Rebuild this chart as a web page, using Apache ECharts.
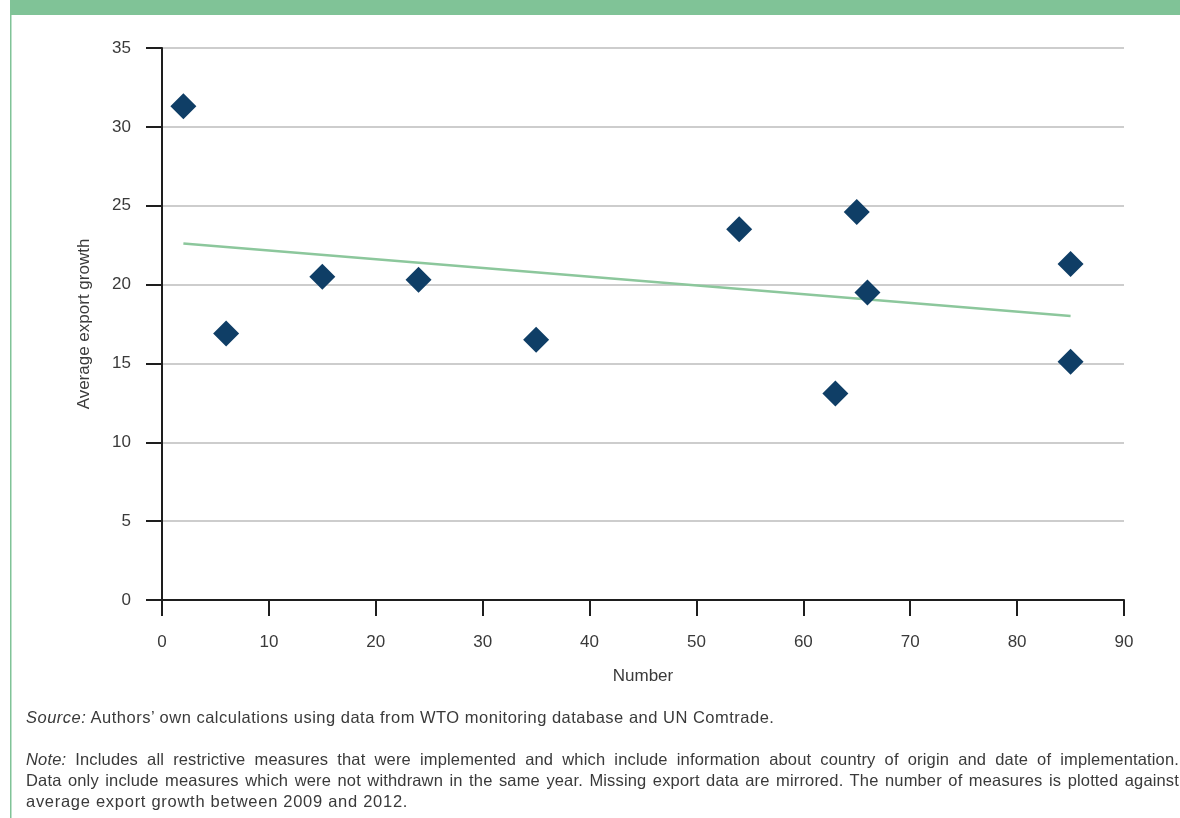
<!DOCTYPE html>
<html>
<head>
<meta charset="utf-8">
<script src="https://cdn.jsdelivr.net/npm/echarts@6/dist/echarts.min.js"></script>
<style>
  html, body { margin: 0; padding: 0; background: #fff; }
  #wrap { position: relative; width: 1180px; height: 818px; overflow: hidden; }
  #chart { position: absolute; left: 0; top: 0; width: 1180px; height: 818px; }
  .cap { position: absolute; left: 26px; width: 1153px; font-family: "Liberation Sans", Arial, sans-serif;
         font-size: 16.5px; letter-spacing: 0.5px; color: #3a3a3a; line-height: 21px; white-space: nowrap; }
  .just { text-align: justify; text-align-last: justify; white-space: normal; letter-spacing: 0.15px; }
</style>
</head>
<body>
<div id="wrap">
  <div id="chart"></div>
  <div class="cap" style="top:707px;"><i>Source:</i> Authors’ own calculations using data from WTO monitoring database and UN Comtrade.</div>
  <div class="cap just" style="top:749px;"><i>Note:</i> Includes all restrictive measures that were implemented and which include information about country of origin and date of implementation.</div>
  <div class="cap just" style="top:770px;">Data only include measures which were not withdrawn in the same year. Missing export data are mirrored. The number of measures is plotted against</div>
  <div class="cap" style="top:791px; letter-spacing: 0.72px;">average export growth between 2009 and 2012.</div>
</div>
<script>
// Data
const measuresNumber = [2, 6, 15, 24, 35, 54, 63, 65, 66, 85, 85];
const exportGrowth   = [31.3, 16.9, 20.5, 20.3, 16.5, 23.5, 13.1, 24.6, 19.5, 21.3, 15.1];
const trendX = [2, 85];
const trendY = [22.6, 18.0];
const xAxisName = 'Number';
const yAxisName = 'Average export growth';

const scatterData = measuresNumber.map((x, i) => [x, exportGrowth[i]]);
const trendData = trendX.map((x, i) => [x, trendY[i]]);

const font = '"Liberation Sans", Arial, sans-serif';
const txt = '#3a3a3a';
const axisCol = '#1e1e1e';

const chart = echarts.init(document.getElementById('chart'), null, { renderer: 'canvas' });
chart.setOption({
  animation: false,
  backgroundColor: '#ffffff',
  graphic: [
    { type: 'rect', left: 10, top: 0, shape: { width: 1170, height: 15 }, style: { fill: '#80c397' }, z: 10 },
    { type: 'rect', left: 10, top: 0, shape: { width: 1.5, height: 818 }, style: { fill: '#80c397' }, z: 10 }
  ],
  grid: { left: 162, right: 56, top: 48, bottom: 218, containLabel: false },
  xAxis: {
    type: 'value', min: 0, max: 90, interval: 10,
    name: xAxisName, nameLocation: 'middle', nameGap: 68,
    nameTextStyle: { fontFamily: font, fontSize: 17, color: txt },
    axisLine: { show: true, onZero: false, lineStyle: { color: axisCol, width: 2 } },
    axisTick: { show: true, inside: false, length: 16, lineStyle: { color: axisCol, width: 2 } },
    axisLabel: { margin: 34, fontFamily: font, fontSize: 17, color: txt },
    splitLine: { show: false }
  },
  yAxis: {
    type: 'value', min: 0, max: 35, interval: 5,
    name: yAxisName, nameLocation: 'middle', nameGap: 69, nameRotate: 90,
    nameTextStyle: { fontFamily: font, fontSize: 17, color: txt },
    axisLine: { show: true, lineStyle: { color: axisCol, width: 2 } },
    axisTick: { show: true, inside: false, length: 16, lineStyle: { color: axisCol, width: 2 } },
    axisLabel: { margin: 31, fontFamily: font, fontSize: 17, color: txt },
    splitLine: { show: true, lineStyle: { color: '#bdbdbd', width: 1.5 } }
  },
  series: [
    {
      type: 'line', data: trendData, symbol: 'none', silent: true, z: 2,
      lineStyle: { color: '#8cc79c', width: 2.5 }
    },
    {
      type: 'scatter', data: scatterData, symbol: 'diamond', symbolSize: [26, 26], z: 3,
      itemStyle: { color: '#0f3e66', opacity: 1 }
    }
  ]
});
</script>
</body>
</html>
